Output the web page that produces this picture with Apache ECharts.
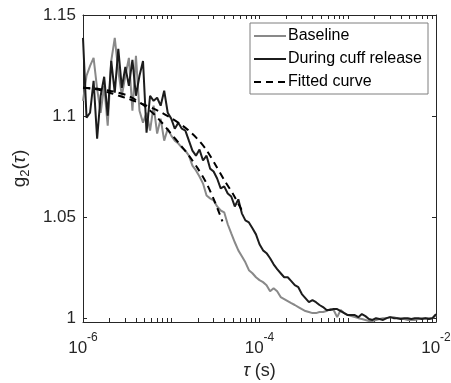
<!DOCTYPE html>
<html>
<head>
<meta charset="utf-8">
<script src="https://cdn.jsdelivr.net/npm/echarts@6/dist/echarts.min.js"></script>
<style>html,body{margin:0;padding:0;background:#fff}#c{width:451px;height:383px}</style>
</head>
<body>
<div id="c"></div>
<script>
// log10(tau) sample positions shared by both measured series
var logTau = [-6.00,-5.96,-5.92,-5.88,-5.84,-5.80,-5.76,-5.72,-5.68,-5.64,-5.60,-5.56,-5.52,-5.48,-5.44,-5.40,-5.36,-5.32,-5.28,-5.24,-5.20,-5.16,-5.12,-5.08,-5.04,-5.00,-4.96,-4.92,-4.88,-4.84,-4.80,-4.76,-4.72,-4.68,-4.64,-4.60,-4.56,-4.52,-4.48,-4.44,-4.40,-4.36,-4.32,-4.28,-4.24,-4.20,-4.16,-4.12,-4.08,-4.04,-4.00,-3.96,-3.92,-3.88,-3.84,-3.80,-3.76,-3.72,-3.68,-3.64,-3.60,-3.56,-3.52,-3.48,-3.44,-3.40,-3.36,-3.32,-3.28,-3.24,-3.20,-3.16,-3.12,-3.08,-3.04,-3.00,-2.96,-2.92,-2.88,-2.84,-2.80,-2.76,-2.72,-2.68,-2.64,-2.60,-2.56,-2.52,-2.48,-2.44,-2.40,-2.36,-2.32,-2.28,-2.24,-2.20,-2.16,-2.12,-2.08,-2.04,-2.00];

var baseline = [1.1076,1.1200,1.1249,1.1288,1.1135,1.1017,1.1150,1.0953,1.1273,1.1387,
1.1224,1.1101,1.1200,1.1288,1.1027,1.1298,1.1027,1.0968,1.1017,1.0929,
1.1052,1.0914,1.0988,1.0879,1.0938,1.0904,1.0879,1.0865,1.0845,1.0830,
1.0805,1.0756,1.0732,1.0702,1.0667,1.0608,1.0594,1.0584,1.0554,1.0534,
1.0525,1.0466,1.0421,1.0377,1.0337,1.0308,1.0278,1.0239,1.0224,1.0204,
1.0190,1.0180,1.0165,1.0135,1.0150,1.0135,1.0106,1.0096,1.0086,1.0076,
1.0067,1.0057,1.0047,1.0037,1.0032,1.0027,1.0027,1.0032,1.0032,1.0037,
1.0047,1.0042,1.0007,1.0042,1.0027,1.0017,1.0012,1.0007,1.0002,0.9998,
0.9993,0.9988,0.9988,0.9993,0.9998,1.0002,1.0002,1.0007,1.0007,1.0002,
1.0002,0.9998,0.9993,0.9993,0.9993,0.9998,1.0002,1.0002,1.0002,1.0002,
1.0017];

var cuffRelease = [1.1387,1.0993,1.1017,1.1175,1.0889,1.1101,1.1195,1.1002,1.1273,1.1116,
1.1333,1.1140,1.1244,1.1150,1.1278,1.1101,1.1200,1.1273,1.0919,1.1101,
1.1076,1.1091,1.1052,1.1126,1.1017,1.0988,1.0938,1.0968,1.0938,1.0929,
1.0879,1.0830,1.0805,1.0835,1.0781,1.0805,1.0741,1.0727,1.0692,1.0643,
1.0653,1.0618,1.0603,1.0554,1.0589,1.0520,1.0485,1.0475,1.0446,1.0416,
1.0367,1.0337,1.0323,1.0298,1.0268,1.0244,1.0224,1.0204,1.0204,1.0185,
1.0165,1.0155,1.0121,1.0101,1.0081,1.0091,1.0081,1.0067,1.0057,1.0042,
1.0042,1.0047,1.0047,1.0037,1.0027,1.0017,1.0017,1.0017,1.0007,1.0022,
1.0012,0.9998,0.9993,1.0002,0.9998,0.9993,1.0002,1.0007,1.0002,1.0002,
0.9998,1.0002,1.0002,0.9998,1.0002,1.0002,0.9998,1.0002,0.9998,1.0002,
1.0022];

// fitted curves
var fitBaseLogTau = [-6.0,-5.9,-5.8,-5.7,-5.6,-5.5,-5.4,-5.3,-5.2,-5.1,-5.0,-4.9,-4.8,-4.7,-4.6,-4.5,-4.42];
var fitBase = [1.1140,1.1138,1.1133,1.1126,1.1116,1.1103,1.1080,1.1050,1.1012,1.0965,1.0912,1.0860,1.0805,1.0742,1.0668,1.0570,1.0480];
var fitCuffLogTau = [-6.0,-5.9,-5.8,-5.7,-5.6,-5.5,-5.4,-5.3,-5.2,-5.1,-5.0,-4.9,-4.8,-4.7,-4.6,-4.5,-4.4,-4.3,-4.2];
var fitCuff = [1.1140,1.1136,1.1128,1.1116,1.1102,1.1088,1.1072,1.1056,1.1037,1.1015,1.0990,1.0962,1.0928,1.0886,1.0832,1.0760,1.0685,1.0615,1.0535];

// tick labels
var xLabelValues = [1e-6, 1e-4, 1e-2];
var yLabelValues = [1, 1.05, 1.1, 1.15];
var xDecades = [-6, -5, -4, -3];
var xTickMantissas = [1,2,3,4,5,6,7,8,9];

var xTickValues = [];
xDecades.forEach(function (d) { xTickMantissas.forEach(function (m) { xTickValues.push(m * Math.pow(10, d)); }); });
xTickValues.push(1e-2);

function pairs(lt, vals) { return lt.map(function (l, i) { return [Math.pow(10, l), vals[i]]; }); }

var AX = '#262626';
var FONT = 'Liberation Sans, Arial, sans-serif';

var xCommon = {
  type: 'log', logBase: 10, min: 1e-6, max: 1e-2,
  axisLine: { show: true, lineStyle: { color: AX, width: 1 } },
  axisTick: { show: true, inside: true, length: 4, lineStyle: { color: AX }, customValues: xTickValues },
  splitLine: { show: false }, minorTick: { show: false }
};
var yCommon = {
  type: 'value', min: 0.9983, max: 1.15,
  axisLine: { show: true, lineStyle: { color: AX, width: 1 } },
  axisTick: { show: true, inside: true, length: 4, lineStyle: { color: AX }, customValues: yLabelValues },
  splitLine: { show: false }
};

var chart = echarts.init(document.getElementById('c'), null, { renderer: 'canvas' });
chart.setOption({
  animation: false,
  backgroundColor: '#fff',
  textStyle: { fontFamily: FONT },
  grid: { left: 83, right: 15, top: 15, bottom: 61, containLabel: false, outerBoundsMode: 'none' },
  legend: {
    orient: 'vertical', left: 250, top: 23,
    data: ['Baseline', 'During cuff release', 'Fitted curve'],
    itemWidth: 32, itemHeight: 14, itemGap: 7,
    padding: [5, 6, 4, 3],
    itemStyle: { opacity: 0, borderWidth: 0 },
    backgroundColor: '#fff', borderColor: '#7f7f7f', borderWidth: 1, borderRadius: 0,
    textStyle: { fontFamily: FONT, fontSize: 16, color: '#000', padding: [0, 0, 0, -3] },
    selectedMode: false
  },
  xAxis: [
    Object.assign({}, xCommon, {
      position: 'bottom',
      name: '{t|τ} {g|(s)}', nameLocation: 'middle', nameGap: 40,
      nameTextStyle: { fontFamily: FONT, fontSize: 18, color: AX,
        rich: { t: { fontFamily: FONT, fontSize: 18, fontStyle: 'italic', color: AX },
                g: { fontFamily: FONT, fontSize: 18, color: AX } } },
      axisLabel: {
        show: true, margin: 10, customValues: xLabelValues, color: AX,
        formatter: function (v) { return '{b|10}{s|' + Math.round(Math.log10(v)) + '}'; },
        rich: {
          b: { fontFamily: FONT, fontSize: 17, color: AX, padding: [8, 0, 0, 0] },
          s: { fontFamily: FONT, fontSize: 12, color: AX, verticalAlign: 'top' }
        }
      }
    }),
    Object.assign({}, xCommon, { position: 'top', axisLabel: { show: false } })
  ],
  yAxis: [
    Object.assign({}, yCommon, {
      position: 'left',
      name: '{g|g}{sub|2}{g|(}{t|τ}{g|)}', nameLocation: 'middle', nameGap: 50, nameRotate: 90,
      nameTextStyle: { fontFamily: FONT, fontSize: 19, color: AX,
        rich: {
          g: { fontFamily: FONT, fontSize: 19, color: AX },
          t: { fontFamily: FONT, fontSize: 19, color: AX, fontStyle: 'italic' },
          sub: { fontFamily: FONT, fontSize: 13, color: AX, padding: [11, 0, 0, 0] }
        } },
      axisLabel: { show: true, margin: 7, customValues: yLabelValues, color: AX, fontSize: 17, fontFamily: FONT,
        formatter: function (v) { return String(+v.toFixed(2)); } }
    }),
    Object.assign({}, yCommon, { position: 'right', axisLabel: { show: false } })
  ],
  series: [
    { name: 'Baseline', type: 'line', xAxisIndex: 0, yAxisIndex: 0, data: pairs(logTau, baseline),
      showSymbol: false, symbol: 'none', lineStyle: { color: '#898989', width: 2 }, itemStyle: { color: '#898989' }, z: 2 },
    { name: 'During cuff release', type: 'line', xAxisIndex: 0, yAxisIndex: 0, data: pairs(logTau, cuffRelease),
      showSymbol: false, symbol: 'none', lineStyle: { color: '#1c1c1c', width: 2 }, itemStyle: { color: '#1c1c1c' }, z: 3 },
    { name: 'Fitted curve', type: 'line', xAxisIndex: 0, yAxisIndex: 0, data: pairs(fitBaseLogTau, fitBase), smooth: 0.3,
      showSymbol: false, symbol: 'none', lineStyle: { color: '#000', width: 2, type: [7, 5] }, itemStyle: { color: '#000' }, z: 4 },
    { name: 'Fitted curve', type: 'line', xAxisIndex: 0, yAxisIndex: 0, data: pairs(fitCuffLogTau, fitCuff), smooth: 0.3,
      showSymbol: false, symbol: 'none', lineStyle: { color: '#000', width: 2, type: [7, 5] }, itemStyle: { color: '#000' }, z: 4 }
  ]
});
</script>
</body>
</html>
